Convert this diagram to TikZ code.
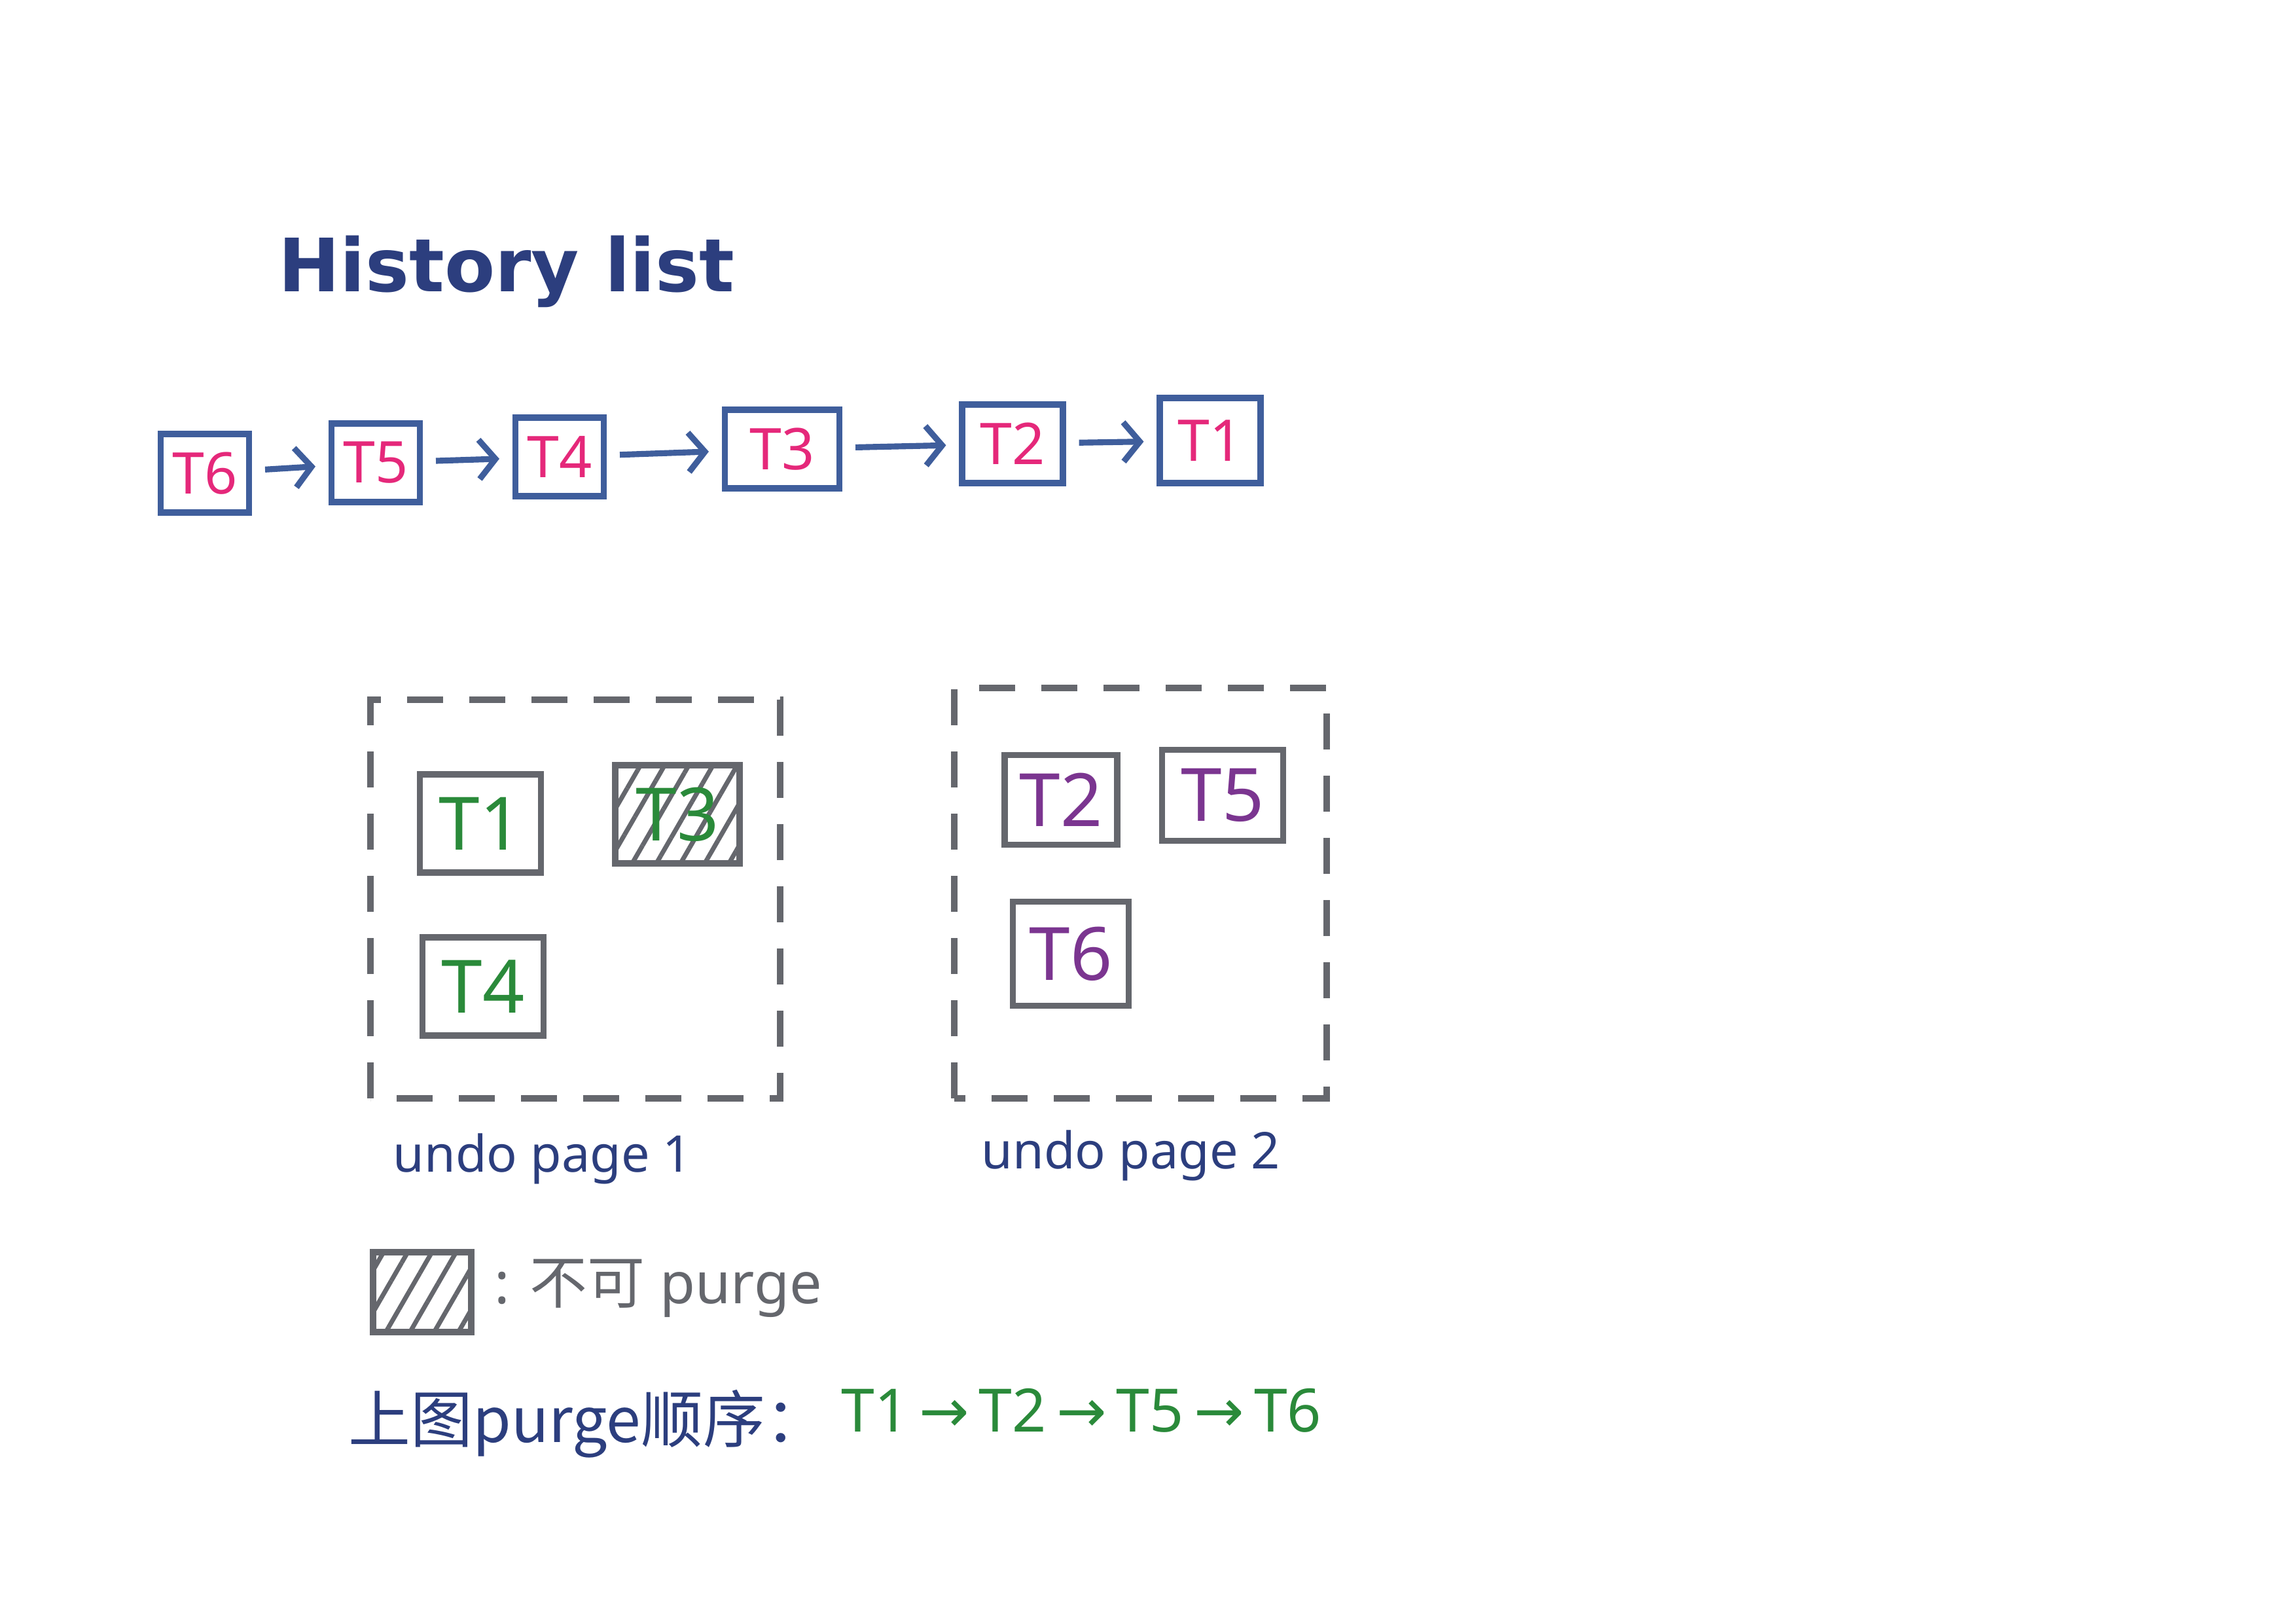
\documentclass[tikz,border=0pt]{standalone}
\usepackage{fontspec}
\setmainfont{Noto Sans}
\newfontfamily\cjk{Noto Sans CJK SC}
\newfontfamily\headfont{DejaVu Sans}
\usetikzlibrary{arrows.meta,patterns.meta}
\definecolor{inkblue}{HTML}{2C3E7E}
\definecolor{boxblue}{HTML}{3F5E9C}
\definecolor{inkpink}{HTML}{E5287A}
\definecolor{inkgray}{HTML}{65676D}
\definecolor{inkgreen}{HTML}{2A8A3A}
\definecolor{inkpurple}{HTML}{7B3590}
\tikzset{
	histbox/.style={draw=boxblue, line width=2.6pt, text=inkpink, minimum width=1.35cm, minimum height=1.2cm, inner sep=0pt, font=\fontsize{25}{25}\selectfont},
	undobox/.style={draw=inkgray, line width=2.6pt, minimum width=1.85cm, minimum height=1.5cm, inner sep=0pt, font=\fontsize{32}{32}\selectfont},
	pagebox/.style={draw=inkgray, line width=2.6pt, dash pattern=on 0.55cm off 0.4cm},
	hatched/.style={pattern={Lines[angle=60,distance=0.32cm,line width=2pt]}, pattern color=inkgray},
	histarrow/.style={draw=boxblue, line width=2.6pt, -{Straight Barb[length=2.5mm,width=6mm]}, shorten >=2mm, shorten <=2mm},
	inktext/.style={anchor=west, inner sep=0pt}
}
\newcommand{\seqarrow}{\,{\headfont →}\,}
\begin{document}
\begin{tikzpicture}
			%%%%% START %%%%%
			\useasboundingbox (0, 0) rectangle (35.08, 24.80);
			
			\node[inktext, text=inkblue, font=\headfont\bfseries\fontsize{32}{32}\selectfont] (title) at (4.25, 20.65) {History list};
			
			% history list
			\node[histbox] (h6) at (3.13, 17.57) {T6};
			\node[histbox] (h5) at (5.74, 17.73) {T5};
			\node[histbox] (h4) at (8.55, 17.82) {T4};
			\node[histbox, minimum width=1.75cm] (h3) at (11.95, 17.94) {T3};
			\node[histbox, minimum width=1.54cm] (h2) at (15.47, 18.02) {T2};
			\node[histbox, minimum width=1.54cm, minimum height=1.3cm] (h1) at (18.49, 18.07) {T1};
			
			\draw[histarrow] (h6) -- (h5);
			\draw[histarrow] (h5) -- (h4);
			\draw[histarrow] (h4) -- (h3);
			\draw[histarrow] (h3) -- (h2);
			\draw[histarrow] (h2) -- (h1);
			
			% undo page 1
			\draw[pagebox] (5.66, 8.02) rectangle (11.92, 14.11);
			\node[undobox, text=inkgreen] (u1) at (7.34, 12.22) {T1};
			\node[undobox, hatched, minimum width=1.9cm, text=inkgreen] (u3) at (10.35, 12.36) {T3};
			\node[undobox, text=inkgreen] (u4) at (7.38, 9.73) {T4};
			\node[inktext, text=inkblue, font=\fontsize{22}{22}\selectfont] (page1) at (6.00, 7.10) {undo page 1};
			
			% undo page 2
			\draw[pagebox] (14.58, 8.02) rectangle (20.27, 14.29);
			\node[undobox, minimum width=1.72cm, minimum height=1.37cm, text=inkpurple] (u2) at (16.21, 12.58) {T2};
			\node[undobox, minimum height=1.39cm, text=inkpurple] (u5) at (18.68, 12.65) {T5};
			\node[undobox, minimum width=1.77cm, minimum height=1.59cm, text=inkpurple] (u6) at (16.36, 10.23) {T6};
			\node[inktext, text=inkblue, font=\fontsize{22}{22}\selectfont] (page2) at (14.99, 7.15) {undo page 2};
			
			% legend
			\node[draw=inkgray, line width=2.6pt, hatched, minimum width=1.5cm, minimum height=1.22cm] (key) at (6.45, 5.06) {};
			\node[inktext, text=inkgray, font=\fontsize{25}{25}\selectfont] (keytext) at (7.55, 5.12) {: {\cjk 不可} purge};
			
			% purge order
			\node[inktext, text=inkblue, font=\cjk\fontsize{27}{27}\selectfont] (order) at (5.32, 3.05) {上图purge顺序：};
			\node[inktext, text=inkgreen, font=\fontsize{26}{26}\selectfont] (seq) at (12.85, 3.25) {T1\seqarrow T2\seqarrow T5\seqarrow T6};
			%%%%% END %%%%%
\end{tikzpicture}
\end{document}
